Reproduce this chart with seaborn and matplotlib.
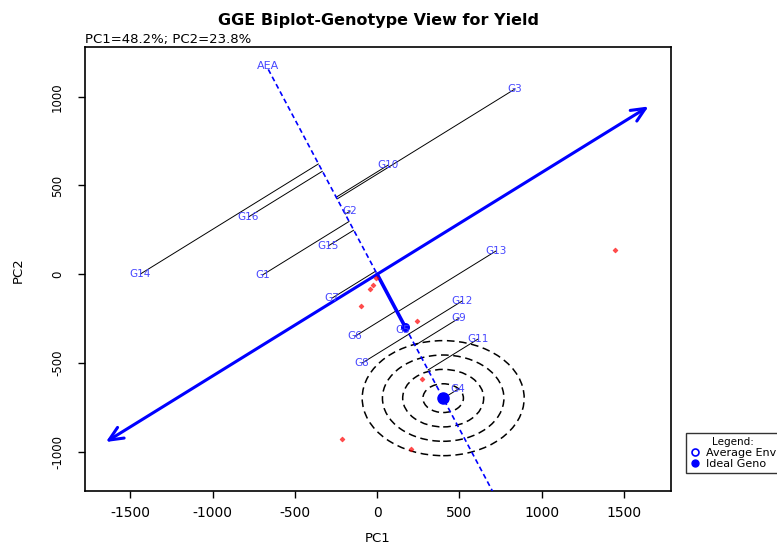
import matplotlib
matplotlib.use("Agg")
import matplotlib.pyplot as plt
from matplotlib.patches import Ellipse
from matplotlib.lines import Line2D
import seaborn as sns
import numpy as np
import pandas as pd

# GGE biplot scores
genotypes = ["G1", "G2", "G3", "G4", "G5", "G6", "G7", "G8",
             "G9", "G10", "G11", "G12", "G13", "G14", "G15", "G16"]
geno_pc1 = [-698, -164, 838, 492, 158, -134, -273, -91,
            498, 67, 613, 516, 722, -1439, -298, -783]
geno_pc2 = [-5, 356, 1044, -647, -314, -349, -134, -500,
            -247, 615, -365, -151, 131, 1, 159, 322]

env_pc1 = [-6, -43, -24, -97, 243, 1445, 273, -213, 206]
env_pc2 = [-21, -83, -61, -179, -264, 136, -590, -928, -985]

avg_env = [172, -300]
ideal_geno = [401, -698]
pc_var = [48.2, 23.8]

x_ticks = [-1500, -1000, -500, 0, 500, 1000, 1500]
y_ticks = [-1000, -500, 0, 500, 1000]

geno = pd.DataFrame({"name": genotypes, "PC1": geno_pc1, "PC2": geno_pc2})
env = pd.DataFrame({"PC1": env_pc1, "PC2": env_pc2})

sns.set_style("white")
plt.rcParams["font.family"] = ["DejaVu Sans"]
plt.rcParams["axes.unicode_minus"] = False
for key in ["text.color", "axes.labelcolor", "xtick.color", "ytick.color"]:
    plt.rcParams[key] = "black"

W, H = 777, 544
fig = plt.figure(figsize=(W / 100, H / 100), dpi=100)
ax = fig.add_axes([85 / W, 1 - 491 / H, (671 - 85) / W, (491 - 47) / H])

blue = "#0000ff"
lab_blue = "#4646ff"

# AEA direction and its perpendicular
u = np.array(avg_env, dtype=float)
u = u / np.linalg.norm(u)
v = np.array([-u[1], u[0]])
if v[0] < 0:
    v = -v

# projection lines of each genotype onto the AEA axis
for _, r in geno.iterrows():
    g = np.array([r.PC1, r.PC2])
    foot = g.dot(u) * u
    ax.plot([g[0], foot[0]], [g[1], foot[1]], color="black", lw=0.7, zorder=2)

# AEA (dashed) through origin
aea = np.outer([-1330, 2200], u)
ax.plot(aea[:, 0], aea[:, 1], color=blue, lw=1.2, ls=(0, (3, 2)), zorder=3)
ax.text(aea[0, 0], aea[0, 1] + 20, "AEA", color=lab_blue, fontsize=8,
        ha="center", va="center")

# perpendicular axis with arrows at both ends
ends = np.outer([-1900, 1900], v)
ax.annotate("", xy=ends[1], xytext=ends[0],
            arrowprops=dict(arrowstyle="<->,head_length=1.0,head_width=0.45",
                            lw=2.2, color=blue, shrinkA=0, shrinkB=0), zorder=4)

# average environment vector
ax.plot([0, avg_env[0]], [0, avg_env[1]], color=blue, lw=2.6, zorder=4)

# concentric rings around the ideal genotype
for k in range(1, 5):
    ax.add_patch(Ellipse(ideal_geno, width=2 * 123 * k, height=2 * 81 * k,
                         fill=False, ec="black", lw=1.1, ls=(0, (5, 3)), zorder=2))

# environments
sns.scatterplot(data=env, x="PC1", y="PC2", marker="D", s=7, color="red",
                edgecolor="red", linewidth=0.3, alpha=0.7, ax=ax, zorder=5, legend=False)

# average env and ideal genotype markers
ax.plot(avg_env[0], avg_env[1], "o", ms=5, mfc=blue, mec=blue, mew=1.5, zorder=6)
ax.plot(ideal_geno[0], ideal_geno[1], "o", ms=8, mfc=blue, mec=blue, zorder=6)

# genotype labels
for _, r in geno.iterrows():
    ax.text(r.PC1, r.PC2, r["name"], color=lab_blue, fontsize=7.5,
            ha="center", va="center", zorder=7)

ax.set_xlim(-1775, 1785)
ax.set_ylim(-1221, 1280)
ax.set_xticks(x_ticks)
ax.set_yticks(y_ticks)
ax.set_xlabel("")
ax.set_ylabel("")
ax.tick_params(axis="both", direction="out", length=5, width=1, color="black",
               bottom=True, left=True)
ax.tick_params(axis="x", labelsize=10, pad=6)
ax.tick_params(axis="y", labelsize=8.5, pad=10)
for lab in ax.get_yticklabels():
    lab.set_rotation(90)
    lab.set_va("center")
for s in ax.spines.values():
    s.set_color("black")
    s.set_linewidth(1.2)
    s.set_visible(True)

fig.text(378 / W, 1 - 20 / H, "GGE Biplot-Genotype View for Yield",
         fontsize=11.5, fontweight="bold", ha="center", va="center")
fig.text(85 / W, 1 - 40 / H, f"PC1={pc_var[0]}%; PC2={pc_var[1]}%",
         fontsize=9.5, ha="left", va="center")
fig.text(378 / W, 1 - 538 / H, "PC1", fontsize=9.5, ha="center", va="center")
fig.text(18 / W, 1 - 270 / H, "PC2", fontsize=9.5, ha="center", va="center",
         rotation=90)

handles = [
    Line2D([], [], marker="o", ls="none", mfc="white", mec=blue, mew=1.2, ms=5),
    Line2D([], [], marker="o", ls="none", mfc=blue, mec=blue, ms=5),
]
fig.legend(handles, ["Average Env", "Ideal Geno"], title="Legend:",
           loc="upper left", bbox_to_anchor=(686 / W, 1 - 433 / H),
           fontsize=8, title_fontsize=7.5, frameon=True, fancybox=False,
           edgecolor="black", borderpad=0.4, handlelength=0.8,
           handletextpad=0.6, labelspacing=0.05, borderaxespad=0)

fig.savefig("out.png", dpi=100)
